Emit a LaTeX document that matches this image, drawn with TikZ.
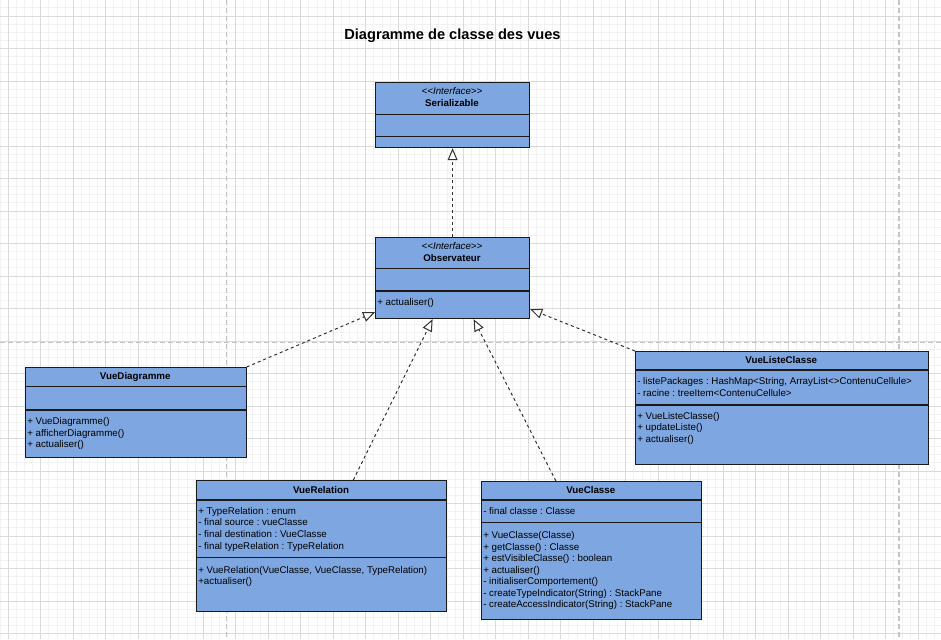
\documentclass[tikz,border=0pt]{standalone}
\usepackage{fontspec}
\setmainfont[Ligatures=NoCommon]{Liberation Sans}
\usetikzlibrary{arrows.meta,calc}
\definecolor{boxfill}{HTML}{7EA6E0}
\definecolor{boxline}{HTML}{1A1A1A}
\definecolor{gridmajor}{HTML}{DADADA}
\definecolor{gridminor}{HTML}{F2F2F2}
\definecolor{pagebreak}{HTML}{C4C4C4}
\definecolor{linkcol}{HTML}{333333}
\begin{document}
\frenchspacing
\begin{tikzpicture}[x=0.75pt,y=-0.75pt,
  cls/.style={draw=boxline, fill=boxfill, line width=0.9pt, anchor=north west, inner sep=0pt},
  divline/.style={draw=boxline, line width=0.9pt},
  cname/.style={anchor=base, inner sep=0pt, font=\bfseries\fontsize{7.31}{8.63}\selectfont},
  stereo/.style={anchor=base, inner sep=0pt, font=\itshape\fontsize{7.31}{8.63}\selectfont},
  members/.style={anchor=north west, inner sep=0pt, align=left, font=\fontsize{7.31}{8.63}\selectfont},
  real/.style={draw=linkcol, line width=0.75pt, dash pattern=on 2.25pt off 2.25pt,
    -{Triangle[length=9pt,width=7.5pt,fill=white,line width=0.75pt]}},
  minorgrid/.style={draw=gridminor, line width=0.75pt},
  majorgrid/.style={draw=gridmajor, line width=0.75pt},
  pagebrk/.style={draw=pagebreak, line width=1.1pt, dash pattern=on 3.75pt off 2.25pt}
]
\useasboundingbox (0,0) rectangle (941,639);
\fill[white] (0,0) rectangle (941,639);
% grid
\foreach \i in {0,...,115} \draw[minorgrid] ({0.175+8.125*\i},0) -- ({0.175+8.125*\i},639);
\foreach \i in {0,...,78} \draw[minorgrid] (0,{7.875+8.125*\i}) -- (941,{7.875+8.125*\i});
\foreach \i in {0,...,28} \draw[majorgrid] ({8.3+32.5*\i},0) -- ({8.3+32.5*\i},639);
\foreach \i in {0,...,19} \draw[majorgrid] (0,{16+32.5*\i}) -- (941,{16+32.5*\i});
% page breaks
\draw[pagebrk] (226.7,0) -- (226.7,639);
\draw[pagebrk] (899,0) -- (899,639);
\draw[pagebrk] (0,342.7) -- (941,342.7);

% title
\node[anchor=base, inner sep=0pt, font=\bfseries\fontsize{10.97}{13}\selectfont] (title) at (452.5,39.5) {Diagramme de classe des vues};

% Serializable
\node[cls, minimum width={154*0.75pt}, minimum height={65*0.75pt}] (ser) at (375,82) {};
\draw[divline] (ser.west |- 0,114.3) -- (ser.east |- 0,114.3);
\draw[divline] (ser.west |- 0,136.3) -- (ser.east |- 0,136.3);
\node[stereo] (serst) at (452,94.5) {<{}<Interface>{}>};
\node[cname] (sername) at (452,106.2) {Serializable};

% Observateur
\node[cls, minimum width={154*0.75pt}, minimum height={81*0.75pt}] (obs) at (375,237) {};
\draw[divline] (obs.west |- 0,268.3) -- (obs.east |- 0,268.3);
\draw[divline] (obs.west |- 0,291) -- (obs.east |- 0,291);
\node[stereo] (obsst) at (452,249.2) {<{}<Interface>{}>};
\node[cname] (obsname) at (452,261.2) {Observateur};
\node[members] (obsm) at (377,297.15) {\strut+ actualiser()};

% VueDiagramme
\node[cls, minimum width={220.5*0.75pt}, minimum height={89.5*0.75pt}] (vd) at (25,367) {};
\draw[divline] (vd.west |- 0,386.7) -- (vd.east |- 0,386.7);
\draw[divline] (vd.west |- 0,410) -- (vd.east |- 0,410);
\node[cname] (vdname) at (135.25,379.2) {VueDiagramme};
\node[members] (vdm) at (27,416.45) {\strut+ VueDiagramme()\\\strut+ afficherDiagramme()\\\strut+ actualiser()};

% VueListeClasse
\node[cls, minimum width={292.5*0.75pt}, minimum height={113*0.75pt}] (vlc) at (635,351) {};
\draw[divline] (vlc.west |- 0,370) -- (vlc.east |- 0,370);
\draw[divline] (vlc.west |- 0,405) -- (vlc.east |- 0,405);
\node[cname] (vlcname) at (781.25,363.5) {VueListeClasse};
\node[members] (vlca) at (637,376.45) {\strut- listePackages : HashMap<String, ArrayList<{}>ContenuCellule>\\\strut- racine : treeItem<ContenuCellule>};
\node[members] (vlcm) at (637,411.15) {\strut+ VueListeClasse()\\\strut+ updateListe()\\\strut+ actualiser()};

% VueRelation
\node[cls, minimum width={250*0.75pt}, minimum height={130.5*0.75pt}] (vr) at (196,480) {};
\draw[divline] (vr.west |- 0,500) -- (vr.east |- 0,500);
\draw[divline] (vr.west |- 0,557.3) -- (vr.east |- 0,557.3);
\node[cname] (vrname) at (321,493.5) {VueRelation};
\node[members] (vra) at (198,506.15) {\strut+ TypeRelation : enum\\\strut- final source : vueClasse\\\strut- final destination : VueClasse\\\strut- final typeRelation : TypeRelation};
\node[members] (vrm) at (198,564.75) {\strut+ VueRelation(VueClasse, VueClasse, TypeRelation)\\\strut+actualiser()};

% VueClasse
\node[cls, minimum width={219.5*0.75pt}, minimum height={138*0.75pt}] (vc) at (481,481) {};
\draw[divline] (vc.west |- 0,500) -- (vc.east |- 0,500);
\draw[divline] (vc.west |- 0,522.7) -- (vc.east |- 0,522.7);
\node[cname] (vcname) at (590.75,493.5) {VueClasse};
\node[members] (vca) at (483,506.45) {\strut- final classe : Classe};
\node[members] (vcm) at (483,530.45) {\strut+ VueClasse(Classe)\\\strut+ getClasse() : Classe\\\strut+ estVisibleClasse() : boolean\\\strut+ actualiser()\\\strut- initialiserComportement()\\\strut- createTypeIndicator(String) : StackPane\\\strut- createAccessIndicator(String) : StackPane};

% realizations
\draw[real] (obs.north) -- (ser.south);
\draw[real] (vd.north east) -- ([yshift=5.25pt]obs.south west);
\draw[real] ([xshift=23.8pt]vr.north) -- ([xshift=-15pt]obs.south);
\draw[real] ([xshift=-26.6pt]vc.north) -- ([xshift=15.75pt]obs.south);
\draw[real] (vlc.north west) -- ([yshift=7.5pt]obs.south east);
\end{tikzpicture}
\end{document}
